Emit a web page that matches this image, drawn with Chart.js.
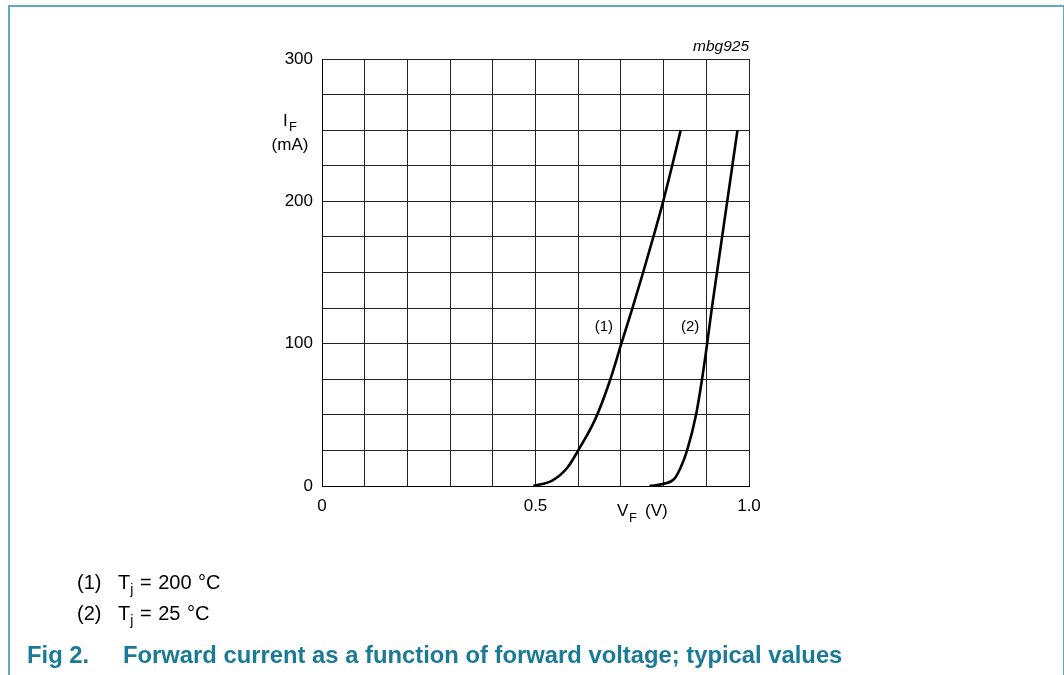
<!DOCTYPE html>
<html>
<head>
<meta charset="utf-8">
<script src="https://cdn.jsdelivr.net/npm/chart.js@4.4.0/dist/chart.umd.min.js"></script>
<style>
    body { margin: 0; background: #fff; font-family: "Liberation Sans", Arial, sans-serif; }
    #wrap { position: relative; width: 1064px; height: 675px; overflow: hidden; }
    #frame {
        position: absolute; left: 8px; top: 5px; width: 1053px; height: 700px;
        border: 2px solid #62abbf; border-bottom: none;
    }
    canvas { position: absolute; left: 0; top: 0; }
    .note { position: absolute; font-size: 20px; color: #000; white-space: nowrap; word-spacing: 1px; }
    .note sub { font-size: 14px; vertical-align: -5px; }
    .title { position: absolute; font-size: 23.8px; font-weight: bold; color: #1b7a95; white-space: nowrap; }
</style>
</head>
<body>
<div id="wrap">
    <div id="frame"></div>
    <canvas id="chart" width="1064" height="675"></canvas>
    <div class="note" style="left:77px; top:571px;">(1)</div>
    <div class="note" style="left:118px; top:571px;">T<sub>j</sub> = 200 °C</div>
    <div class="note" style="left:77px; top:602px;">(2)</div>
    <div class="note" style="left:118px; top:602px;">T<sub>j</sub> = 25 °C</div>
    <div class="title" style="left:27px; top:641px;">Fig 2.</div>
    <div class="title" style="left:123px; top:641px;">Forward current as a function of forward voltage; typical values</div>
</div>
<script>
// curva (1) Tj = 200 °C
const vf1 = [0.495, 0.54, 0.575, 0.600, 0.640, 0.672, 0.701, 0.727, 0.752, 0.776, 0.799, 0.820, 0.840];
const if1 = [0, 4, 13, 25, 47, 72, 100, 125, 150, 175, 200, 225, 250];

// curva (2) Tj = 25 °C
const vf2 = [0.767, 0.80, 0.825, 0.840, 0.855, 0.876, 0.890, 0.902, 0.913, 0.925, 0.937, 0.949, 0.961, 0.973];
const if2 = [0, 1.5, 5, 13, 25, 50, 75, 100, 125, 150, 175, 200, 225, 250];

// ticks com rótulo
const xTickLabels = { 0: '0', 5: '0.5', 10: '1.0' };
const yTickLabels = [0, 100, 200, 300];

// rótulos das curvas
const curveLabels = [
    { text: '(1)', x: 0.660, y: 112 },
    { text: '(2)', x: 0.862, y: 112 }
];

const toPoints = (xs, ys) => xs.map((x, i) => ({ x, y: ys[i] }));

const FONT = '"Liberation Sans", Arial, sans-serif';

// desenha textos extras (I_F, V_F, mbg925, (1), (2))
const labelsPlugin = {
    id: 'labels',
    afterDraw(chart) {
        const ctx = chart.ctx;
        const xs = chart.scales.x, ys = chart.scales.y;
        ctx.save();
        ctx.fillStyle = '#000';
        ctx.textBaseline = 'middle';

        ctx.font = '15px ' + FONT;
        ctx.textAlign = 'center';
        curveLabels.forEach(l => ctx.fillText(l.text, xs.getPixelForValue(l.x), ys.getPixelForValue(l.y)));

        // I_F (mA)
        ctx.font = '17px ' + FONT;
        ctx.textAlign = 'left';
        ctx.fillText('I', 283, 121);
        ctx.font = '13px ' + FONT;
        ctx.fillText('F', 289, 127);
        ctx.font = '17px ' + FONT;
        ctx.textAlign = 'center';
        ctx.fillText('(mA)', 290, 145);

        // V_F (V)
        ctx.textAlign = 'left';
        ctx.fillText('V', 617, 511);
        ctx.font = '13px ' + FONT;
        ctx.fillText('F', 629, 518);
        ctx.font = '17px ' + FONT;
        ctx.fillText('(V)', 645, 511);

        // código da figura
        ctx.font = 'italic 15.5px ' + FONT;
        ctx.textAlign = 'right';
        ctx.fillText('mbg925', chart.chartArea.right, 47);
        ctx.restore();
    }
};

const lineStyle = {
    borderColor: '#000',
    borderWidth: 2.6,
    pointRadius: 0,
    fill: false,
    cubicInterpolationMode: 'monotone'
};

new Chart(document.getElementById('chart'), {
    type: 'line',
    data: {
        datasets: [
            Object.assign({ label: '(1)', data: toPoints(vf1, if1) }, lineStyle),
            Object.assign({ label: '(2)', data: toPoints(vf2, if2) }, lineStyle)
        ]
    },
    options: {
        responsive: false,
        animation: false,
        layout: { padding: { left: 262, right: 315, top: 59, bottom: 149 } },
        plugins: { legend: { display: false }, tooltip: { enabled: false } },
        scales: {
            x: {
                type: 'linear',
                min: 0, max: 1.0,
                afterFit(scale) { scale.height = 40; },
                grid: { color: '#222', lineWidth: 1, drawTicks: false },
                border: { color: '#000', width: 1 },
                ticks: {
                    stepSize: 0.1,
                    padding: 10,
                    color: '#000',
                    font: { family: FONT, size: 17 },
                    maxRotation: 0,
                    autoSkip: false,
                    callback: v => {
                        const k = Math.round(v * 10);
                        return xTickLabels[k] !== undefined ? xTickLabels[k] : '';
                    }
                }
            },
            y: {
                min: 0, max: 300,
                afterFit(scale) { scale.width = 60; },
                grid: { color: '#222', lineWidth: 1, drawTicks: false },
                border: { color: '#000', width: 1 },
                ticks: {
                    stepSize: 25,
                    padding: 9,
                    color: '#000',
                    font: { family: FONT, size: 17 },
                    autoSkip: false,
                    callback: v => yTickLabels.includes(v) ? String(v) : ''
                }
            }
        }
    },
    plugins: [labelsPlugin]
});
</script>
</body>
</html>
